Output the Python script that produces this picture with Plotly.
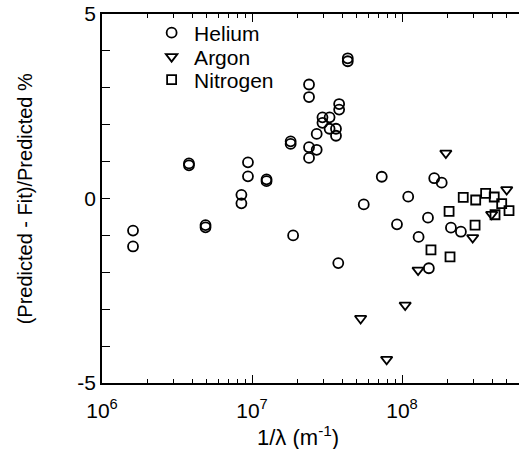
import plotly.graph_objects as go

# Helium
he_x = [1.61e6, 1.61e6, 3.8e6, 3.8e6, 4.9e6, 4.9e6, 8.5e6, 8.5e6, 9.4e6, 9.4e6,
        1.25e7, 1.25e7, 1.81e7, 1.81e7, 1.88e7, 2.4e7, 2.4e7, 2.4e7, 2.4e7,
        2.7e7, 2.7e7, 2.95e7, 2.95e7, 3.29e7, 3.29e7, 3.63e7, 3.63e7, 3.81e7, 3.81e7,
        4.35e7, 4.35e7, 3.76e7, 5.56e7, 7.33e7, 9.26e7, 1.10e8, 1.29e8, 1.49e8,
        1.51e8, 1.64e8, 1.84e8, 2.12e8, 2.47e8]
he_y = [-0.87, -1.30, 0.95, 0.90, -0.72, -0.78, 0.10, -0.13, 0.98, 0.60,
        0.52, 0.47, 1.55, 1.48, -1.0, 3.09, 2.75, 1.39, 1.10,
        1.75, 1.32, 2.2, 2.05, 2.2, 1.89, 1.89, 1.70, 2.56, 2.41,
        3.72, 3.80, -1.75, -0.16, 0.59, -0.70, 0.05, -1.04, -0.52,
        -1.89, 0.55, 0.43, -0.79, -0.90]

# Argon
ar_x = [1.96e8, 4.99e8, 3.96e8, 2.96e8, 1.28e8, 1.05e8, 5.3e7, 7.9e7]
ar_y = [1.23, 0.24, -0.43, -1.06, -1.94, -2.89, -3.25, -4.36]

# Nitrogen
n2_x = [2.56e8, 3.1e8, 3.61e8, 4.12e8, 4.62e8, 5.17e8, 2.06e8, 4.17e8, 3.07e8, 1.56e8, 2.09e8]
n2_y = [0.03, -0.04, 0.14, 0.04, -0.14, -0.33, -0.35, -0.44, -0.72, -1.39, -1.58]

x_tickvals = [1e6, 1e7, 1e8]
x_ticktext = ["10<sup>6</sup>", "10<sup>7</sup>", "10<sup>8</sup>"]
x_minor_ticks = [m * d for d in (1e6, 1e7, 1e8) for m in range(2, 10)]
y_tickvals = [-5, 0, 5]
y_ticktext = ["-5", "0", "5"]
y_unit_ticks = [-4, -3, -2, -1, 1, 2, 3, 4]

FONT = "Liberation Sans, Arial, sans-serif"

fig = go.Figure()
fig.add_trace(go.Scatter(x=he_x, y=he_y, mode="markers", name="Helium", legend="legend",
                         marker=dict(symbol="circle-open", size=10, color="black",
                                     line=dict(width=1.8, color="black"))))
fig.add_trace(go.Scatter(x=ar_x, y=ar_y, mode="markers", name="Argon", legend="legend2",
                         marker=dict(symbol="triangle-down-open", size=10, color="black",
                                     line=dict(width=1.8, color="black"))))
fig.add_trace(go.Scatter(x=n2_x, y=n2_y, mode="markers", name="Nitrogen", legend="legend3",
                         marker=dict(symbol="square-open", size=9, color="black",
                                     line=dict(width=1.8, color="black"))))
# empty helper traces so the tick-overlay axes are drawn
fig.add_trace(go.Scatter(x=[], y=[], xaxis="x2", yaxis="y", showlegend=False,
                         hoverinfo="skip"))
fig.add_trace(go.Scatter(x=[], y=[], xaxis="x", yaxis="y2", showlegend=False,
                         hoverinfo="skip"))

leg_common = dict(xanchor="left", yanchor="middle", bgcolor="rgba(0,0,0,0)",
                  font=dict(size=21, family=FONT, color="black"), itemwidth=35,
                  borderwidth=0)
plot_top, plot_h = 14, 369
def ypix(p):
    return 1 - (p - plot_top) / plot_h

fig.update_layout(
    width=519, height=449,
    margin=dict(l=102, r=0, t=14, b=66, autoexpand=False),
    paper_bgcolor="white", plot_bgcolor="white",
    font=dict(family=FONT, size=21, color="black"),
    showlegend=True,
    legend=dict(x=0.113, y=ypix(33), **leg_common),
    legend2=dict(x=0.113, y=ypix(57), **leg_common),
    legend3=dict(x=0.113, y=ypix(80), **leg_common),
    xaxis=dict(type="log", range=[6, 8.78], automargin=False,
               showline=True, linecolor="black", linewidth=1.5, mirror="ticks",
               ticks="inside", ticklen=8, tickwidth=1.2, tickcolor="black",
               tickvals=x_tickvals, ticktext=x_ticktext,
               showgrid=False, zeroline=False, ticklabelstandoff=8),
    xaxis2=dict(type="log", range=[6, 8.78], automargin=False, overlaying="x",
                anchor="y", side="bottom",
                showline=False, mirror="ticks",
                ticks="inside", ticklen=4, tickwidth=1, tickcolor="black",
                tickvals=x_minor_ticks, showticklabels=False,
                showgrid=False, zeroline=False),
    yaxis=dict(range=[-5, 5], automargin=False,
               showline=True, linecolor="black", linewidth=1.5, mirror=False,
               ticks="inside", ticklen=8, tickwidth=1.2, tickcolor="black",
               tickvals=y_tickvals, ticktext=y_ticktext,
               showgrid=False, zeroline=False),
    yaxis2=dict(range=[-5, 5], automargin=False, overlaying="y", anchor="x",
                side="left", showline=False,
                ticks="inside", ticklen=8, tickwidth=1.2, tickcolor="black",
                tickvals=y_unit_ticks, showticklabels=False,
                showgrid=False, zeroline=False),
    annotations=[
        dict(text="1/λ (m<sup>-1</sup>)", xref="paper", yref="paper",
             x=0.47, y=-0.1436, xanchor="center", yanchor="middle",
             showarrow=False, font=dict(size=22)),
        dict(text="(Predicted - Fit)/Predicted %", xref="paper", yref="paper",
             x=-0.185, y=0.5, xanchor="center", yanchor="middle", textangle=-90,
             showarrow=False, font=dict(size=20)),
    ],
)

fig.write_html("out.html", config={"displayModeBar": False},
               post_script="document.body.style.margin='0';")
